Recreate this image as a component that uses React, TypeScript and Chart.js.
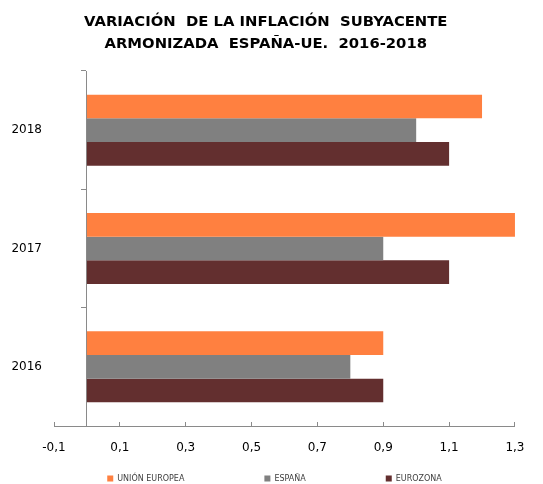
import React, { useEffect, useRef } from 'react';
import { Chart, registerables } from 'chart.js';

Chart.register(...registerables);

const CATEGORIES = ['2018', '2017', '2016'];
const SERIES_NAMES = ['UNIÓN EUROPEA', 'ESPAÑA', 'EUROZONA'];
const UNION_EUROPEA = [1.2, 1.3, 0.9];
const ESPANA = [1.0, 0.9, 0.8];
const EUROZONA = [1.1, 1.1, 0.9];
const X_TICKS = [-0.1, 0.1, 0.3, 0.5, 0.7, 0.9, 1.1, 1.3];
const TITLE_LINES = ['VARIACIÓN  DE LA INFLACIÓN  SUBYACENTE', 'ARMONIZADA  ESPAÑA-UE.  2016-2018'];

const COLORS = ['#FF8040', '#808080', '#632F2F'];
const AXIS_GRAY = '#8A8A8A';

const legendPlacer = {
  id: 'legendPlacer',
  afterLayout(chart: any) {
    const lg = chart.legend;
    if (!lg) return;
    const pad = lg.options.labels.padding;
    const rowTop = chart.height - 9.5;
    lg.top = rowTop - pad;
    lg.bottom = chart.height;
    lg.left += 8.75;
    lg.right += 8.75;
  },
};

export default function App() {
  const ref = useRef<HTMLCanvasElement | null>(null);

  useEffect(() => {
    if (!ref.current) return;
    Chart.defaults.font.family = "'DejaVu Sans', Verdana, sans-serif";
    const series = [UNION_EUROPEA, ESPANA, EUROZONA];
    const chart = new Chart(ref.current, {
      type: 'bar',
      data: {
        labels: CATEGORIES,
        datasets: series.map((values, i) => ({
          label: SERIES_NAMES[i],
          data: values,
          backgroundColor: COLORS[i],
          borderWidth: 0,
          categoryPercentage: 0.6,
          barPercentage: 1.0,
        })),
      },
      options: {
        indexAxis: 'y',
        animation: false,
        responsive: false,
        layout: { padding: { left: 0, right: 11.5, top: 0, bottom: 0 } },
        plugins: {
          title: {
            display: true,
            text: TITLE_LINES,
            color: '#000',
            font: { size: 14.8, weight: 'bold', lineHeight: 22 / 14.8 },
            padding: { top: 11, bottom: 16 },
          },
          legend: {
            position: 'bottom',
            maxHeight: 18,
            labels: {
              boxWidth: 6,
              boxHeight: 6,
              padding: 80,
              color: '#404040',
              font: { size: 8 },
            },
          },
          tooltip: { enabled: false },
        },
        scales: {
          x: {
            type: 'linear',
            min: -0.1,
            max: 1.3,
            afterBuildTicks: (scale: any) => {
              scale.ticks = X_TICKS.map((v) => ({ value: v }));
            },
            afterFit: (scale: any) => {
              scale.height = 40;
            },
            ticks: {
              color: '#000',
              font: { size: 12 },
              padding: 18.5,
              callback: (v: any) => Number(v).toFixed(1).replace('.', ','),
            },
            grid: {
              display: true,
              drawOnChartArea: false,
              drawTicks: true,
              tickLength: -4,
              color: AXIS_GRAY,
            },
            border: { display: true, color: AXIS_GRAY, width: 1 },
          },
          y: {
            type: 'category',
            position: 'left',
            afterFit: (scale: any) => {
              scale.width = 54;
            },
            ticks: { color: '#000', font: { size: 12 }, padding: 12 },
            grid: { display: false, drawTicks: false },
            border: { display: false },
          },
          y2: {
            type: 'category',
            axis: 'y',
            position: { x: 0 },
            offset: true,
            z: 1,
            ticks: { display: false },
            grid: {
              offset: true,
              drawOnChartArea: false,
              drawTicks: true,
              tickLength: 5,
              color: AXIS_GRAY,
            },
            border: { display: true, color: AXIS_GRAY, width: 1 },
          },
        },
      } as any,
      plugins: [legendPlacer],
    });
    return () => chart.destroy();
  }, []);

  return (
    <div style={{ position: 'absolute', left: 0, top: 0, width: 543, height: 484, background: '#fff' }}>
      <canvas ref={ref} width={543} height={484} style={{ display: 'block' }} />
    </div>
  );
}
